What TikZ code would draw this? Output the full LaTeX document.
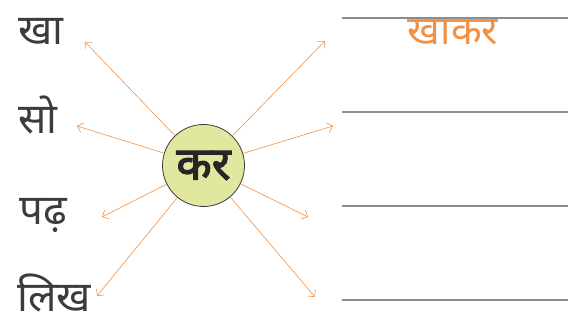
\documentclass[tikz,border=0pt]{standalone}
\usepackage{fontspec}
\newfontfamily\deva[Script=Devanagari]{Noto Sans}
\newfontfamily\devab[Script=Devanagari,FakeBold=2.5]{Noto Sans}
\usetikzlibrary{arrows.meta}
\definecolor{arr}{RGB}{240,145,70}
\definecolor{txt}{RGB}{60,60,60}
\definecolor{cfill}{RGB}{226,231,160}
\definecolor{lgray}{RGB}{140,140,140}
\tikzset{
  word/.style={anchor=base west, inner sep=0pt, text=txt, font=\deva\fontsize{42}{46}\selectfont},
  conn/.style={draw=arr, line width=0.6pt, -{Straight Barb[length=5pt,width=10pt]}},
  rule/.style={draw=lgray, line width=1.6pt},
}
\begin{document}
\begin{tikzpicture}[x=1pt,y=-1pt]
\useasboundingbox (0,0) rectangle (577,323);
\node[circle, draw=txt, line width=0.8pt, fill=cfill, minimum size=82pt, inner sep=0pt,
  font=\devab\fontsize{46}{50}\selectfont, text=black!85] (c) at (203.5,165.5) {कर};
\node[word] (w1) at (18,45) {खा};
\node[word] (w2) at (18,134) {सो};
\node[word] (w3) at (19,224) {पढ़};
\node[word] (w4) at (17,311) {लिख};
\coordinate (l1) at (85,42);
\coordinate (l2) at (77,126);
\coordinate (l3) at (102,217);
\coordinate (l4) at (97,296);
\coordinate (r1) at (325,41);
\coordinate (r2) at (333,126);
\coordinate (r3) at (308,217);
\coordinate (r4) at (315,297);
\foreach \t in {l1,l2,l3,l4,r1,r2,r3,r4} \draw[conn] (c) -- (\t);
\coordinate (a1) at (342,18); \coordinate (b1) at (568,18);
\coordinate (a2) at (342,112); \coordinate (b2) at (568,112);
\coordinate (a3) at (342,206); \coordinate (b3) at (568,206);
\coordinate (a4) at (342,300); \coordinate (b4) at (568,300);
\draw[rule] (a1) -- (b1);
\draw[rule] (a2) -- (b2);
\draw[rule] (a3) -- (b3);
\draw[rule] (a4) -- (b4);
\node[anchor=base, inner sep=0pt, text=arr, font=\deva\fontsize{40}{44}\selectfont] (ans) at (453,45) {खाकर};
\end{tikzpicture}
\end{document}
